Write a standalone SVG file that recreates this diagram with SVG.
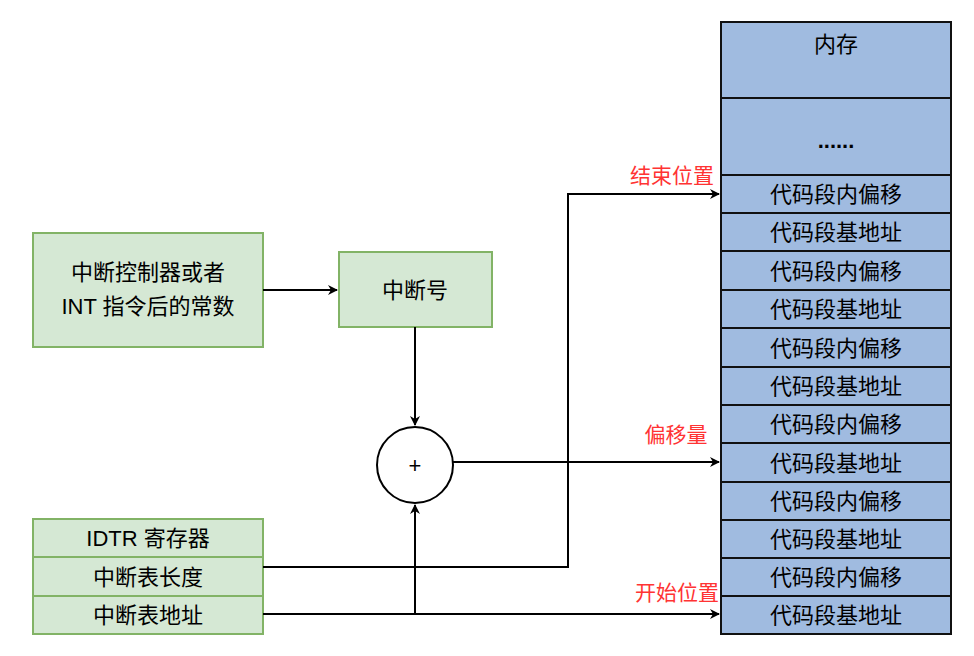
<svg xmlns="http://www.w3.org/2000/svg" width="974" height="656" viewBox="0 0 974 656">
<style>
text{font-family:"Liberation Sans","Noto Sans CJK SC",sans-serif;font-size:22px;fill:#000;text-anchor:middle;dominant-baseline:central}
.g{fill:#d5e8d4;stroke:#82b366;stroke-width:2}
.b{fill:#a0bbe0;stroke:#111;stroke-width:2}
.c{fill:none;stroke:#000;stroke-width:2}
.r{fill:#ff3333;font-size:21px}
</style>
<defs><marker id="a" markerWidth="10" markerHeight="10" refX="9" refY="5" orient="auto" markerUnits="userSpaceOnUse"><path d="M0,0 L10,5 L0,10 L3,5z" fill="#000"/></marker></defs>
<rect width="974" height="656" fill="#fff"/>
<g id="src"><rect class="g" x="33" y="233" width="230" height="114"/><text x="148" y="272">中断控制器或者</text><text x="148" y="306">INT 指令后的常数</text></g>
<g id="num"><rect class="g" x="339" y="252" width="153" height="75"/><text x="415" y="290">中断号</text></g>
<g id="plus"><circle cx="415" cy="465" r="38" fill="#fff" stroke="#000" stroke-width="2"/><text x="415" y="465">+</text></g>
<g id="idtr"><rect class="g" x="33" y="519" width="230" height="38"/><text x="148" y="538">IDTR 寄存器</text>
<rect class="g" x="33" y="557" width="230" height="39"/><text x="148" y="577">中断表长度</text>
<rect class="g" x="33" y="596" width="230" height="38"/><text x="148" y="615">中断表地址</text></g>
<g id="mem">
<rect class="b" x="721" y="22" width="230" height="76"/><text x="836" y="44">内存</text>
<rect class="b" x="721" y="98" width="230" height="77"/><text x="836" y="140" style="font-weight:bold">......</text>
<rect class="b" x="721" y="175" width="230" height="38"/><text x="836" y="194">代码段内偏移</text>
<rect class="b" x="721" y="213" width="230" height="38"/><text x="836" y="232">代码段基地址</text>
<rect class="b" x="721" y="251" width="230" height="39"/><text x="836" y="271">代码段内偏移</text>
<rect class="b" x="721" y="290" width="230" height="38"/><text x="836" y="309">代码段基地址</text>
<rect class="b" x="721" y="328" width="230" height="39"/><text x="836" y="348">代码段内偏移</text>
<rect class="b" x="721" y="367" width="230" height="38"/><text x="836" y="386">代码段基地址</text>
<rect class="b" x="721" y="405" width="230" height="38"/><text x="836" y="424">代码段内偏移</text>
<rect class="b" x="721" y="443" width="230" height="39"/><text x="836" y="463">代码段基地址</text>
<rect class="b" x="721" y="482" width="230" height="38"/><text x="836" y="501">代码段内偏移</text>
<rect class="b" x="721" y="520" width="230" height="38"/><text x="836" y="539">代码段基地址</text>
<rect class="b" x="721" y="558" width="230" height="38"/><text x="836" y="577">代码段内偏移</text>
<rect class="b" x="721" y="596" width="230" height="38"/><text x="836" y="615">代码段基地址</text>
</g>
<g id="connectors">
<path class="c" d="M263,290 H337" marker-end="url(#a)"/>
<path class="c" d="M415,327 V425" marker-end="url(#a)"/>
<path class="c" d="M453,462 H719" marker-end="url(#a)"/>
<path class="c" d="M263,567 H568 V194 H719" marker-end="url(#a)"/>
<path class="c" d="M263,614 H719" marker-end="url(#a)"/>
<path class="c" d="M415,614 V505" marker-end="url(#a)"/>
</g>
<g id="labels">
<text class="r" x="672" y="175">结束位置</text>
<text class="r" x="676" y="434">偏移量</text>
<text class="r" x="677" y="592">开始位置</text>
</g>
</svg>
